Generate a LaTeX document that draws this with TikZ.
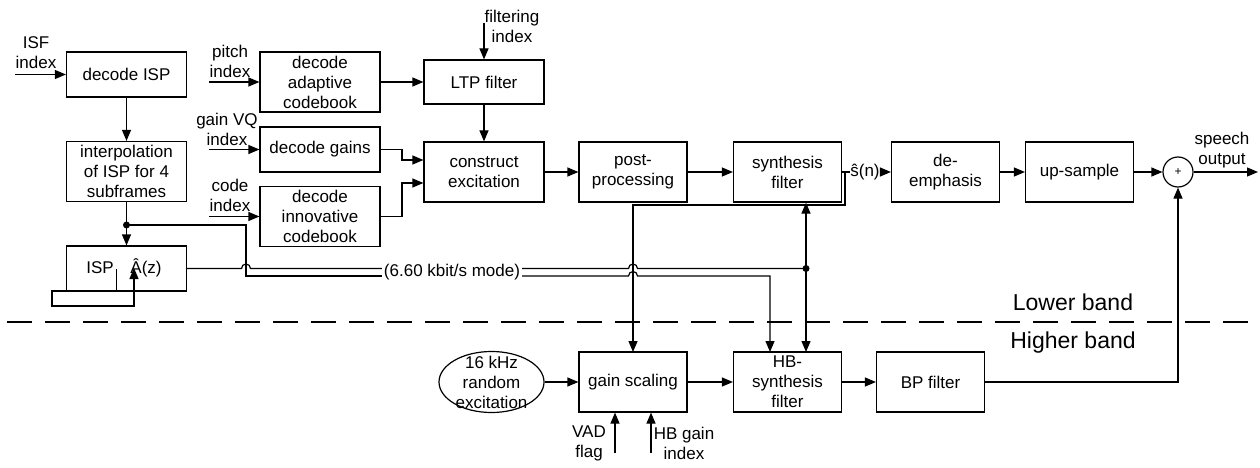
\documentclass[tikz,border=0pt]{standalone}
\usepackage{fontspec}
\setmainfont{Liberation Sans}
\usepackage{tikz}
\usetikzlibrary{shapes,arrows.meta}
\tikzset{
  block/.style={rectangle, draw, line width=1.2pt, minimum width=108pt, minimum height=60pt, inner sep=1pt, align=center, font=\fontsize{17}{20}\selectfont},
  wideblock/.style={block, minimum width=120pt},
  flow/.style={-{Triangle[length=11pt,width=9pt]}, line width=1.2pt},
  wire/.style={line width=1.2pt},
  tag/.style={align=center, inner sep=0pt, font=\fontsize{17}{20}\selectfont},
  bandtag/.style={inner sep=0pt, font=\fontsize{23}{26}\selectfont},
  dot/.style={circle, fill, inner sep=0pt, minimum size=7pt},
}
\newcommand{\celpblock}[4][]{\node at (#2) (#3) [block,#1] {#4};}
\newcommand{\celpflow}[2]{\draw [flow] (#1) -- (#2);}
\newcommand{\celpthree}[3]{\draw [flow] (#1) -- (#2) -- (#3);}
\newcommand{\celpfour}[4]{\draw [flow] (#1) -- (#2) -- (#3) -- (#4);}
\begin{document}
\begin{tikzpicture}[x=1pt, y=-1pt]
\useasboundingbox (0,0) rectangle (1260,468);

% ISP branch
\celpblock[wideblock, minimum height=45pt]{126.5,74.5}{isp}{decode ISP}
\celpblock[wideblock]{126.5,171.5}{interp}{interpolation\\of ISP for 4\\subframes}
\celpblock[wideblock, minimum height=45pt]{126.5,268.5}{lpc}{}
\node at (100,268) (ispt) [tag] {ISP};
\node at (146,268) (ahat) [tag] {Â(z)};

\coordinate (isfin) at (15,74.5);
\node at (36,53) (isftag) [tag] {ISF\\index};
\celpflow{isfin}{isp}
\celpflow{isp}{interp}
\celpflow{interp}{lpc}

\coordinate (lpc1) at (116.5,269);
\coordinate (lpc2) at (116.5,291);
\coordinate (lpc3) at (52,291);
\coordinate (lpc4) at (52,306);
\coordinate (lpc5) at (134,306);
\coordinate (lpc6) at (134,268);
\draw [flow] (lpc1) -- (lpc2) -- (lpc3) -- (lpc4) -- (lpc5) -- (lpc6);

% excitation branch
\celpblock[wideblock]{320,82}{adapt}{decode\\adaptive\\codebook}
\celpblock[wideblock, minimum height=45pt]{320,149.5}{gains}{decode gains}
\celpblock[wideblock]{320,216.5}{innov}{decode\\innovative\\codebook}
\celpblock[wideblock, minimum height=44pt]{484,82}{ltp}{LTP filter}
\celpblock[wideblock]{484,172}{exc}{construct\\excitation}
\celpblock{633,172}{post}{post-\\processing}
\celpblock{787.5,172}{synth}{synthesis\\filter}
\celpblock{945.5,172}{deemph}{de-\\emphasis}
\celpblock{1079.5,172}{upsmp}{up-sample}
\node at (1178,172) (sum) [circle, draw, line width=1.2pt, minimum size=30pt, inner sep=0pt, font=\fontsize{12}{12}\selectfont] {+};

\coordinate (pitchin) at (209,82);
\node at (230,61.5) (pitchtag) [tag] {pitch\\index};
\coordinate (gainin) at (209,149.5);
\node at (227,129.5) (gaintag) [tag] {gain VQ\\index};
\coordinate (codein) at (209,216.5);
\node at (230,195.5) (codetag) [tag] {code\\index};
\coordinate (filtin) at (484,23);
\node at (512,26.5) (filttag) [tag] {filtering\\index};
\celpflow{pitchin}{adapt}
\celpflow{gainin}{gains}
\celpflow{codein}{innov}
\celpflow{filtin}{ltp}
\celpflow{adapt}{ltp}
\celpflow{ltp}{exc}

\coordinate (gains1) at (402,149.5);
\coordinate (gains2) at (402,160);
\celpfour{gains.east}{gains1}{gains2}{exc.west |- gains2}
\coordinate (innov1) at (402,216.5);
\coordinate (innov2) at (402,183);
\celpfour{innov.east}{innov1}{innov2}{exc.west |- innov2}

\celpflow{exc}{post}
\celpflow{post}{synth}
\node at (865,172) (shat) [tag] {ŝ(n)};
\draw [wire] (synth.east) -- (shat.west);
\celpflow{shat}{deemph}
\celpflow{deemph}{upsmp}
\celpflow{upsmp}{sum}
\coordinate (speechout) at (1258,172);
\node at (1222,150) (speechtag) [tag] {speech\\output};
\celpflow{sum}{speechout}

% 6.60 kbit/s path
\node at (452,272) (mode) [tag, inner xsep=2pt] {(6.60 kbit/s mode)};
\coordinate (ispdot) at (126.5,225);
\node at (ispdot) [dot] {};
\coordinate (ispdot1) at (246,225);
\coordinate (ispdot2) at (246,276);
\draw [wire] (ispdot) -- (ispdot1) -- (ispdot2) -- (mode.west |- ispdot2);
\coordinate (jump1) at (241.5,268.5);
\draw [wire] (lpc.east) -- (jump1) arc[start angle=180, end angle=0, radius=4.5pt] -- (mode.west |- jump1);

\coordinate (jump2) at (628.5,268.5);
\coordinate (lsfdot) at (806,268.5);
\draw [wire] (mode.east |- jump2) -- (jump2) arc[start angle=180, end angle=0, radius=4.5pt] -- (lsfdot);
\node at (lsfdot) [dot] {};
\coordinate (jump3) at (628.5,276);
\coordinate (hbin) at (770,276);
\draw [flow] (mode.east |- jump3) -- (jump3) arc[start angle=180, end angle=0, radius=4.5pt] -- (hbin) -- (hbin |- 0,352);
\draw [flow] (lsfdot) -- (lsfdot |- synth.south);
\draw [flow] (lsfdot) -- (lsfdot |- 0,352);

\coordinate (synout1) at (845,172);
\coordinate (synout2) at (845,205);
\coordinate (synout3) at (633,205);
\draw [flow] (synout1) -- (synout2) -- (synout3) -- (synout3 |- 0,352);

% band separator
\coordinate (bandl) at (7,322);
\coordinate (bandr) at (1260,322);
\draw [wire, dash pattern=on 25pt off 13pt] (bandl) -- (bandr);
\node at (1073,302) (lowtag) [bandtag] {Lower band};
\node at (1073,343) (hightag) [bandtag] {Higher band};

% higher band
\node at (491.5,382) (noise) [ellipse, draw, line width=1.2pt, minimum width=105pt, minimum height=61pt] {};
\node at (noise) (noisetag) [tag] {16 kHz\\random\\excitation};
\celpblock{633,382}{gscale}{gain scaling}
\celpblock{787.5,382}{hbsyn}{HB-\\synthesis\\filter}
\celpblock{930.5,382}{bp}{BP filter}
\celpflow{noise}{gscale}
\celpflow{gscale}{hbsyn}
\celpflow{hbsyn}{bp}
\celpthree{bp.east}{sum.south |- bp.east}{sum.south}

\coordinate (vadin) at (615,453);
\node at (589,443) (vadtag) [tag] {VAD\\flag};
\coordinate (hbgin) at (651,453);
\node at (684,443) (hbgtag) [tag] {HB gain\\index};
\draw [flow] (vadin) -- (vadin |- gscale.south);
\draw [flow] (hbgin) -- (hbgin |- gscale.south);

\end{tikzpicture}
\end{document}
